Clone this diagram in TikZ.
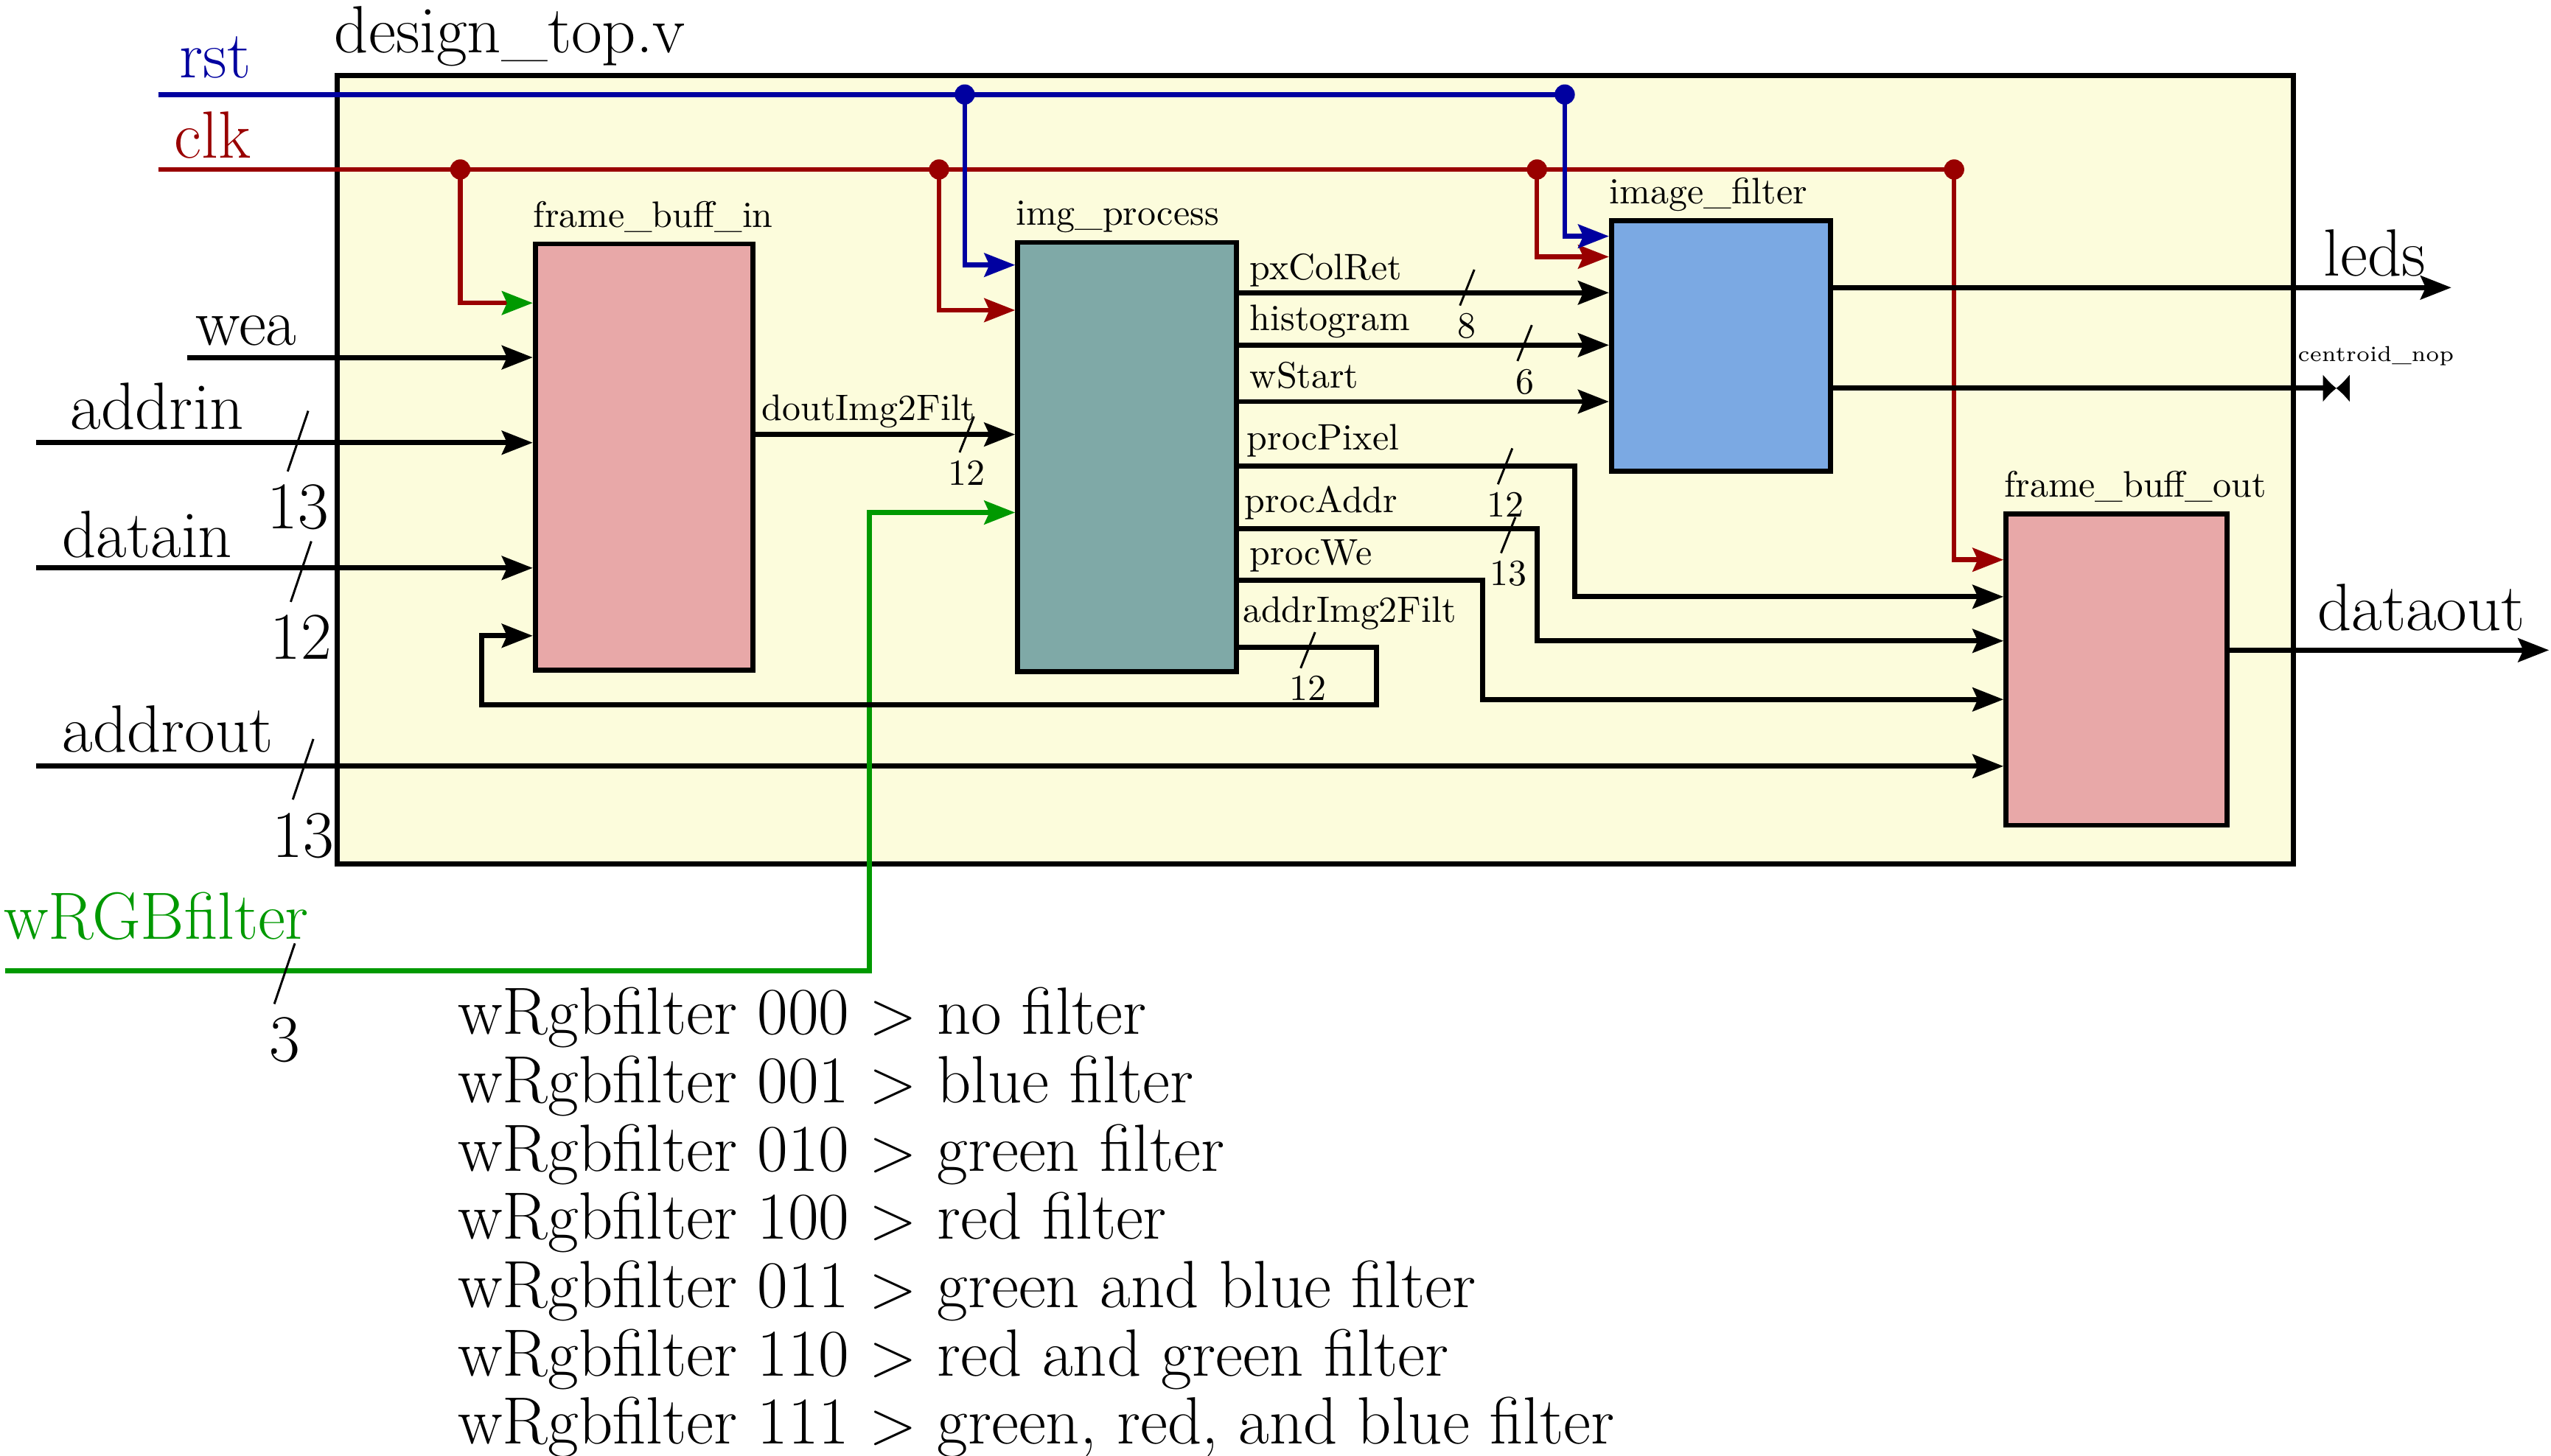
\documentclass[tikz,border=0pt]{standalone}
\usetikzlibrary{positioning,calc,arrows.meta}
\definecolor{RstBlue}{HTML}{0000A0}
\definecolor{ClkRed}{HTML}{990000}
\definecolor{FiltGreen}{HTML}{009900}
\definecolor{TopFill}{HTML}{FCFCDC}
\definecolor{BuffPink}{HTML}{E8A8A8}
\definecolor{ProcTeal}{HTML}{7FA9A7}
\definecolor{FiltBlue}{HTML}{7BA9E3}
\newcommand{\portfont}{\fontsize{18.5}{22}\selectfont}
\newcommand{\sigfont}{\fontsize{10.2}{12}\selectfont}
\newcommand{\nopfont}{\fontsize{6}{7}\selectfont}
\tikzset{
  top block/.style={draw,line width=1.4pt,fill=TopFill,inner sep=0pt},
  sub block/.style={draw,line width=1.4pt,inner sep=0pt},
  block label/.style={anchor=base west,inner sep=0pt,yshift=4pt,font=\sigfont},
  port label/.style={anchor=base west,inner sep=0pt,font=\portfont},
  sig label/.style={anchor=base west,inner sep=0pt,font=\sigfont},
  wire/.style={line width=1.4pt,-{Stealth[length=3mm,width=2.3mm,inset=.5mm]}},
  main net/.style={line width=1.4pt},
  net tap/.style={line width=1.3pt,-{Stealth[length=3mm,width=2.3mm,inset=.5mm]}},
  bus slash/.style={line width=.6pt},
  bus num/.style={anchor=north}
}
% bus width marks: point, width, name, slash offset
\newcommand{\busbig}[4]{%
  \draw[bus slash] ($#1+(.1,{.295+#4})$) -- ($#1+(-.1,{-.295+#4})$);
  \node[bus num,font=\portfont,inner sep=3.5pt] (#3) at ($#1+(0,{-.295+#4})$) {#2};}
\newcommand{\bussmall}[4]{%
  \draw[bus slash] ($#1+(.07,{.175+#4})$) -- ($#1+(-.07,{-.175+#4})$);
  \node[bus num,font=\sigfont,inner sep=2pt] (#3) at ($#1+(0,{-.175+#4})$) {#2};}

\begin{document}
\begin{tikzpicture}
  \useasboundingbox (0,0) rectangle (24.83,-14.17);

  % blocks
  \node[top block,anchor=north west,minimum width=19.04cm,minimum height=7.68cm] (top) at (3.26,-0.71) {};
  \node[port label] (toplbl) at (3.25,-0.51) {design\_top.v};
  \node[sub block,fill=BuffPink,minimum width=2.12cm,minimum height=4.15cm] (fbin) at (6.27,-4.45) {};
  \node[sub block,fill=ProcTeal,minimum width=2.13cm,minimum height=4.18cm] (improc) at (10.97,-4.45) {};
  \node[sub block,fill=FiltBlue,minimum width=2.13cm,minimum height=2.44cm] (imfilt) at (16.75,-3.37) {};
  \node[sub block,fill=BuffPink,minimum width=2.15cm,minimum height=3.03cm] (fbout) at (20.60,-6.52) {};
  \node[block label] (fbinlbl) at (fbin.north west) {frame\_buff\_in};
  \node[block label] (improclbl) at (improc.north west) {img\_process};
  \node[block label] (imfiltlbl) at (imfilt.north west) {image\_filter};
  \node[block label] (fboutlbl) at (fbout.north west) {frame\_buff\_out};

  % clock and reset
  \coordinate (clkin) at (1.54,-1.65);
  \coordinate (clkA) at (4.48,-1.65);
  \coordinate (clkB) at (9.14,-1.65);
  \coordinate (clkC) at (14.96,-1.65);
  \coordinate (clkD) at (19.02,-1.65);
  \coordinate (rstin) at (1.54,-0.92);
  \coordinate (rstA) at (9.39,-0.92);
  \coordinate (rstB) at (15.23,-0.92);
  \draw[main net,draw=ClkRed] (clkin) -- (clkD);
  \draw[net tap,draw=ClkRed,-{Stealth[length=3mm,width=2.3mm,inset=.5mm,color=FiltGreen]}] (clkA) |- (fbin.west |- 0,-2.95);
  \draw[net tap,draw=ClkRed] (clkB) |- (improc.west |- 0,-3.02);
  \draw[net tap,draw=ClkRed] (clkC) |- (imfilt.west |- 0,-2.50);
  \draw[net tap,draw=ClkRed] (clkD) |- (fbout.west |- 0,-5.45);
  \foreach \dot in {clkA,clkB,clkC,clkD} \fill[ClkRed] (\dot) circle (2.8pt);
  \draw[main net,draw=RstBlue] (rstin) -- (rstB);
  \draw[net tap,draw=RstBlue] (rstA) |- (improc.west |- 0,-2.58);
  \draw[net tap,draw=RstBlue] (rstB) |- (imfilt.west |- 0,-2.30);
  \foreach \dot in {rstA,rstB} \fill[RstBlue] (\dot) circle (2.8pt);
  \node[port label,text=RstBlue] (rstlbl) at (1.74,-0.76) {rst};
  \node[port label,text=ClkRed] (clklbl) at (1.69,-1.54) {clk};

  % inputs
  \coordinate (wea) at (1.82,-3.48);
  \coordinate (addrin) at (0.35,-4.31);
  \coordinate (datain) at (0.35,-5.53);
  \coordinate (addrout) at (0.35,-7.46);
  \coordinate (wrgb) at (0.05,-9.45);
  \draw[wire] (wea) -- (wea -| fbin.west);
  \draw[wire] (addrin) -- (addrin -| fbin.west);
  \draw[wire] (datain) -- (datain -| fbin.west);
  \draw[wire] (addrout) -- (addrout -| fbout.west);
  \draw[wire,draw=FiltGreen] (wrgb) -| (8.46,-4.99) -- (improc.west |- 0,-4.99);
  \node[port label] (wealbl) at (1.90,-3.36) {wea};
  \node[port label] (addrinlbl) at (0.68,-4.18) {addrin};
  \node[port label] (datainlbl) at (0.60,-5.43) {datain};
  \node[port label] (addroutlbl) at (0.60,-7.32) {addrout};
  \node[port label,text=FiltGreen] (wrgblbl) at (0.03,-9.14) {wRGBfilter};
  \busbig{(2.90,-4.31)}{13}{bwaddrin}{.015}
  \busbig{(2.93,-5.53)}{12}{bwdatain}{-.035}
  \busbig{(2.95,-7.46)}{13}{bwaddrout}{-.03}
  \busbig{(2.77,-9.45)}{3}{bwwrgb}{-.03}

  % internal buses
  \draw[wire] (fbin.east |- 0,-4.23) -- (improc.west |- 0,-4.23);
  \draw[wire] (improc.east |- 0,-2.85) -- (imfilt.west |- 0,-2.85);
  \draw[wire] (improc.east |- 0,-3.36) -- (imfilt.west |- 0,-3.36);
  \draw[wire] (improc.east |- 0,-3.91) -- (imfilt.west |- 0,-3.91);
  \draw[wire] (improc.east |- 0,-4.54) -| (15.33,-5.81) -- (fbout.west |- 0,-5.81);
  \draw[wire] (improc.east |- 0,-5.15) -| (14.96,-6.24) -- (fbout.west |- 0,-6.24);
  \draw[wire] (improc.east |- 0,-5.65) -| (14.43,-6.81) -- (fbout.west |- 0,-6.81);
  \draw[wire] (improc.east |- 0,-6.30) -| (13.40,-6.86) -| (4.69,-6.19) -- (fbin.west |- 0,-6.19);
  \node[sig label] (doutlbl) at (7.41,-4.09) {doutImg2Filt};
  \node[sig label] (pxcollbl) at (12.16,-2.72) {pxColRet};
  \node[sig label] (histlbl) at (12.16,-3.22) {histogram};
  \node[sig label] (wstartlbl) at (12.16,-3.78) {wStart};
  \node[sig label] (pixlbl) at (12.13,-4.38) {procPixel};
  \node[sig label] (paddrlbl) at (12.11,-4.99) {procAddr};
  \node[sig label] (pwelbl) at (12.16,-5.50) {procWe};
  \node[sig label] (aimglbl) at (12.09,-6.06) {addrImg2Filt};
  \bussmall{(9.41,-4.23)}{12}{bwdout}{0}
  \bussmall{(14.28,-2.85)}{8}{bwpxcol}{.05}
  \bussmall{(14.84,-3.36)}{6}{bwhist}{.02}
  \bussmall{(14.65,-4.54)}{12}{bwpix}{0}
  \bussmall{(14.68,-5.15)}{13}{bwpaddr}{-.06}
  \bussmall{(12.73,-6.30)}{12}{bwaimg}{-.03}

  % outputs
  \coordinate (leds) at (23.86,-2.80);
  \coordinate (cnop) at (22.61,-3.78);
  \coordinate (dataout) at (24.81,-6.33);
  \draw[wire] (imfilt.east |- leds) -- (leds);
  \draw[main net] (imfilt.east |- cnop) -- (cnop);
  \fill[shift={(cnop)}] (0,.13) -- (0,-.13) .. controls (.07,-.05) .. (.13,0)
    .. controls (.19,-.05) .. (.26,-.13) -- (.26,.13) .. controls (.19,.05) .. (.13,0)
    .. controls (.07,.05) .. cycle;
  \draw[wire] (fbout.east |- dataout) -- (dataout);
  \node[port label] (ledslbl) at (22.61,-2.69) {leds};
  \node[port label,font=\nopfont] (cnoplbl) at (22.36,-3.52) {centroid\_nop};
  \node[port label] (dataoutlbl) at (22.55,-6.14) {dataout};

  % filter codes
  \foreach \bits/\effect [count=\i from 0] in {000/no filter,001/blue filter,010/green filter,
      100/red filter,011/green and blue filter,110/red and green filter,{111/green, red, and blue filter}}
    \node[port label] (code\i) at (4.45,{-10.07-0.665*\i}) {wRgbfilter \bits{} $>$ \effect};
\end{tikzpicture}
\end{document}
